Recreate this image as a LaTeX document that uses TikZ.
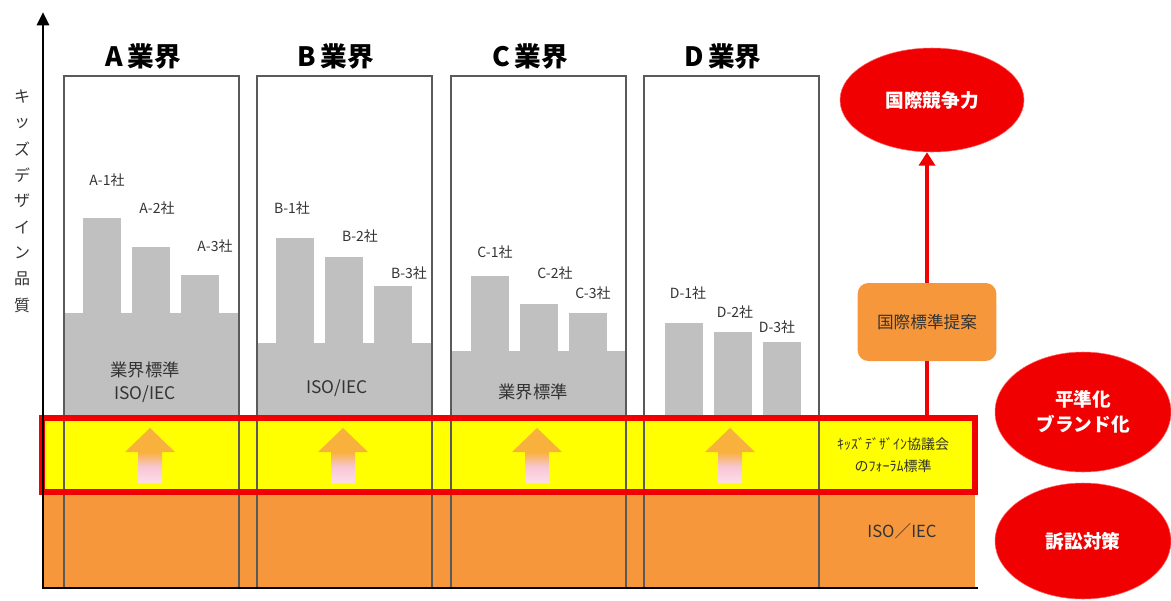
\documentclass[tikz,border=0pt]{standalone}
\usepackage{fontspec}
\setmainfont{Noto Sans CJK JP}
\usetikzlibrary{arrows.meta,shapes.geometric}
\definecolor{barfill}{HTML}{C0C0C0}
\definecolor{bandorange}{HTML}{F7973B}
\definecolor{bandyellow}{HTML}{FFFF00}
\definecolor{bandred}{HTML}{F00000}
\definecolor{framegray}{HTML}{5A5A5A}
\definecolor{txt}{HTML}{333333}
\definecolor{headorange}{HTML}{F9B13D}
\definecolor{shaftpink}{HTML}{F9C6D6}

\begin{document}
\begin{tikzpicture}[x=0.75pt,y=-0.75pt,
  company/.style={text=txt,font=\fontsize{10.5}{12}\selectfont,inner sep=0pt},
  stdlabel/.style={text=txt,font=\fontsize{13}{17}\selectfont,inner sep=0pt,align=center},
  title/.style={font=\bfseries\fontsize{20}{22}\selectfont,inner sep=0pt},
  goal/.style={ellipse,fill=bandred,draw=red!60!white,text=white,
    font=\bfseries\fontsize{14}{19}\selectfont,align=center,inner sep=0pt}]
\useasboundingbox (0,0) rectangle (1171,600);

\coordinate (O) at (43,588);
\coordinate (Y) at (43,12);
\coordinate (X) at (978,588);
\coordinate (U) at (927,418);

% bands
\fill[bandorange] (42,492) rectangle (975,588);
\fill[bandyellow] (42,418) rectangle (975,492);

% A
\fill[barfill] (64,313) rectangle (238,418);
\fill[barfill] (83,218) rectangle (121,418);
\fill[barfill] (132,247) rectangle (170,418);
\fill[barfill] (181,275) rectangle (219,418);
\node[company] (a1) at (107,180) {A-1社};
\node[company] (a2) at (157,208) {A-2社};
\node[company] (a3) at (215,246) {A-3社};
\node[stdlabel] (astd) at (145,382) {業界標準\\ISO/IEC};

% B
\fill[barfill] (257,343) rectangle (432,418);
\fill[barfill] (276,238) rectangle (314,418);
\fill[barfill] (325,257) rectangle (363,418);
\fill[barfill] (374,286) rectangle (412,418);
\node[company] (b1) at (292,208) {B-1社};
\node[company] (b2) at (360,236) {B-2社};
\node[company] (b3) at (409,273) {B-3社};
\node[stdlabel] (bstd) at (337,388) {ISO/IEC};

% C
\fill[barfill] (451,351) rectangle (625,418);
\fill[barfill] (471,276) rectangle (509,418);
\fill[barfill] (520,304) rectangle (558,418);
\fill[barfill] (569,313) rectangle (607,418);
\node[company] (c1) at (495,252) {C-1社};
\node[company] (c2) at (555,273) {C-2社};
\node[company] (c3) at (593,293) {C-3社};
\node[stdlabel] (cstd) at (533,392) {業界標準};

% D
\fill[barfill] (665,323) rectangle (703,418);
\fill[barfill] (714,332) rectangle (752,418);
\fill[barfill] (763,342) rectangle (801,418);
\node[company] (d1) at (688,293) {D-1社};
\node[company] (d2) at (735,312) {D-2社};
\node[company] (d3) at (777,327) {D-3社};

% panels
\foreach \x/\name in {64/A,257/B,451/C,644/D}{
  \draw[framegray,line width=1.2pt] (\x,76) rectangle ({\x+175},588);
  \node[title] at ({\x+79},56) {\name\,業界};
  \fill[headorange] ({\x+86},428) -- ({\x+111},452) -- ({\x+61},452) -- cycle;
  \shade[top color=headorange,bottom color=shaftpink!60!white,middle color=shaftpink]
    ({\x+74},452) rectangle ({\x+98},482);
}

% forum band
\draw[bandred,line width=4.5pt] (42,418) rectangle (975,492);
\node[text=txt,font=\fontsize{10.5}{17}\selectfont,align=center,inner sep=0pt]
  (forum) at (893,455) {ｷｯｽﾞﾃﾞｻﾞｲﾝ協議会\\のﾌｫｰﾗﾑ標準};
\node[text=txt,font=\fontsize{12.5}{14}\selectfont,inner sep=0pt] (iso) at (902,531) {ISO／IEC};

% axes
\draw[line width=2.2pt] (42,588) -- (X);
\draw[line width=2.2pt,-{Triangle[width=9pt,length=10pt]}] (O) -- (Y);
\foreach \c [count=\i from 0] in {キ,ッ,ズ,デ,ザ,イ,ン,品,質}
  \node[text=txt,font=\fontsize{12}{12}\selectfont,inner sep=0pt] at (22,{97+26*\i}) {\c};

% right side
\node[goal,minimum width=138pt,minimum height=78pt] (intl) at (932,100) {国際競争力};
\node[rounded corners=8pt,fill=bandorange,text=txt,font=\fontsize{12.5}{14}\selectfont,
  minimum width=104pt,minimum height=58.5pt] (propose) at (927,322) {国際標準提案};
\node[goal,minimum width=132pt,minimum height=90pt] (brand) at (1083,412) {平準化\\ブランド化};
\node[goal,minimum width=132pt,minimum height=87pt] (suit) at (1083,541) {訴訟対策};

\draw[bandred,line width=3pt] (U) -- (propose.south);
\draw[bandred,line width=3pt,-{Triangle[width=12pt,length=10pt]}]
  (propose.north) -- (propose.north |- intl.south);

\end{tikzpicture}
\end{document}
